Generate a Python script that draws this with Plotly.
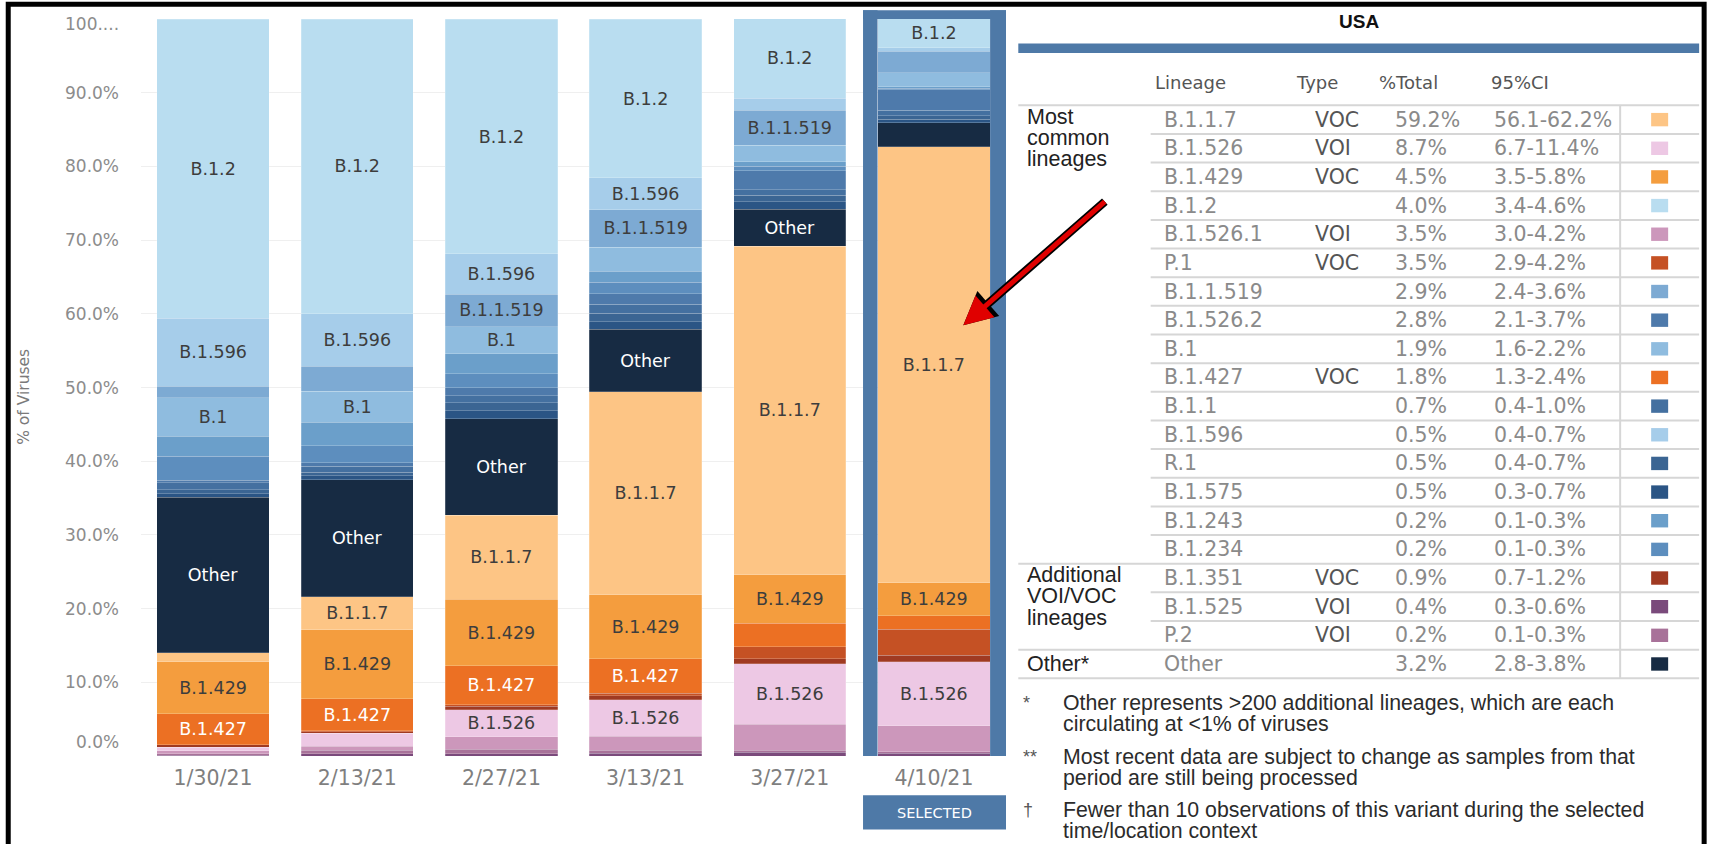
import plotly.graph_objects as go

# ---------------- data ----------------
DATES = ["1/30/21", "2/13/21", "2/27/21", "3/13/21", "3/27/21", "4/10/21"]

# stack order, bottom -> top
LINEAGES = ["B.1.525", "P.2", "B.1.526.1", "B.1.526", "B.1.351", "P.1", "B.1.427",
            "B.1.429", "B.1.1.7", "Other", "B.1.575", "R.1", "B.1.1", "B.1.526.2",
            "B.1.234", "B.1.243", "B.1", "B.1.1.519", "B.1.596", "B.1.2"]

B_1_525 = [0.1, 0.3, 0.3, 0.4, 0.5, 0.4]
P_2 = [0.2, 0.5, 0.6, 0.4, 0.3, 0.2]
B_1_526_1 = [0.4, 0.5, 1.7, 1.9, 3.5, 3.5]
B_1_526 = [0.5, 1.8, 3.7, 4.9, 8.2, 8.7]
B_1_351 = [0.3, 0.2, 0.45, 0.6, 0.7, 0.9]
P_1 = [0.0, 0.1, 0.2, 0.3, 1.6, 3.5]
B_1_427 = [4.2, 4.4, 5.3, 4.7, 3.2, 1.8]
B_1_429 = [7.1, 9.3, 9.0, 8.7, 6.6, 4.5]
B_1_1_7 = [1.2, 4.5, 11.4, 27.5, 44.6, 59.2]
OTHER = [21.1, 15.9, 13.1, 8.5, 5.0, 3.2]
B_1_575 = [0.5, 0.5, 1.1, 1.0, 1.0, 0.5]
R_1 = [0.5, 0.5, 1.1, 1.2, 0.9, 0.5]
B_1_1 = [1.0, 0.8, 0.9, 1.2, 0.7, 0.7]
B_1_526_2 = [0.3, 0.5, 1.1, 1.4, 2.6, 2.8]
B_1_234 = [3.3, 2.3, 1.9, 1.6, 0.65, 0.2]
B_1_243 = [2.7, 3.2, 2.7, 1.45, 0.6, 0.2]
B_1 = [5.2, 4.2, 3.7, 3.3, 2.2, 1.9]
B_1_1_519 = [1.6, 3.4, 4.4, 5.1, 4.8, 2.9]
B_1_596 = [9.2, 7.1, 5.5, 4.3, 1.6, 0.5]
B_1_2 = [40.6, 40.0, 31.8, 21.5, 10.8, 4.0]

SHARE = {
    "B.1.525": B_1_525, "P.2": P_2, "B.1.526.1": B_1_526_1, "B.1.526": B_1_526,
    "B.1.351": B_1_351, "P.1": P_1, "B.1.427": B_1_427, "B.1.429": B_1_429,
    "B.1.1.7": B_1_1_7, "Other": OTHER, "B.1.575": B_1_575, "R.1": R_1,
    "B.1.1": B_1_1, "B.1.526.2": B_1_526_2, "B.1.234": B_1_234, "B.1.243": B_1_243,
    "B.1": B_1, "B.1.1.519": B_1_1_519, "B.1.596": B_1_596, "B.1.2": B_1_2,
}

COLORS = {
    "B.1.1.7": "#FDC585", "B.1.526": "#EDC8E4", "B.1.429": "#F49D3E", "B.1.2": "#B9DDF0",
    "B.1.526.1": "#CC97BB", "P.1": "#C55124", "B.1.1.519": "#7DAAD3", "B.1.526.2": "#4E7AAB",
    "B.1": "#8FBCDF", "B.1.427": "#EC7023", "B.1.1": "#4470A0", "B.1.596": "#A6CDEA",
    "R.1": "#3B6593", "B.1.575": "#2B5585", "B.1.243": "#6B9FCA", "B.1.234": "#5D8EBE",
    "B.1.351": "#A03A22", "B.1.525": "#7A4A7B", "P.2": "#A87299", "Other": "#172B43",
}

# which segments carry a text label (1 = labelled)
LABELLED = {
    "B.1.2": [1, 1, 1, 1, 1, 1],
    "B.1.596": [1, 1, 1, 1, 0, 0],
    "B.1.1.519": [0, 0, 1, 1, 1, 0],
    "B.1": [1, 1, 1, 0, 0, 0],
    "Other": [1, 1, 1, 1, 1, 0],
    "B.1.1.7": [0, 1, 1, 1, 1, 1],
    "B.1.429": [1, 1, 1, 1, 1, 1],
    "B.1.427": [1, 1, 1, 1, 0, 0],
    "B.1.526": [0, 0, 1, 1, 1, 1],
}
WHITE_LABELS = ["Other", "B.1.427"]

Y_TICKS = [0, 10, 20, 30, 40, 50, 60, 70, 80, 90, 100]
Y_TICK_TEXT = ["0.0%", "10.0%", "20.0%", "30.0%", "40.0%", "50.0%",
               "60.0%", "70.0%", "80.0%", "90.0%", "100...."]

# table (selected period, USA)
TABLE_LINEAGE = ["B.1.1.7", "B.1.526", "B.1.429", "B.1.2", "B.1.526.1", "P.1", "B.1.1.519",
                 "B.1.526.2", "B.1", "B.1.427", "B.1.1", "B.1.596", "R.1", "B.1.575",
                 "B.1.243", "B.1.234", "B.1.351", "B.1.525", "P.2", "Other"]
TABLE_TYPE = ["VOC", "VOI", "VOC", "", "VOI", "VOC", "", "", "", "VOC", "", "", "", "",
              "", "", "VOC", "VOI", "VOI", ""]
TABLE_PCT = ["59.2%", "8.7%", "4.5%", "4.0%", "3.5%", "3.5%", "2.9%", "2.8%", "1.9%", "1.8%",
             "0.7%", "0.5%", "0.5%", "0.5%", "0.2%", "0.2%", "0.9%", "0.4%", "0.2%", "3.2%"]
TABLE_CI = ["56.1-62.2%", "6.7-11.4%", "3.5-5.8%", "3.4-4.6%", "3.0-4.2%", "2.9-4.2%",
            "2.4-3.6%", "2.1-3.7%", "1.6-2.2%", "1.3-2.4%", "0.4-1.0%", "0.4-0.7%",
            "0.4-0.7%", "0.3-0.7%", "0.1-0.3%", "0.1-0.3%", "0.7-1.2%", "0.3-0.6%",
            "0.1-0.3%", "2.8-3.8%"]
TABLE_HEADER = ["Lineage", "Type", "%Total", "95%CI"]
GROUP_LABELS = [["Most", "common", "lineages"], ["Additional", "VOI/VOC", "lineages"], ["Other*"]]
GROUP_START = [0, 16, 19]
GROUP_END = [16, 19, 20]

FOOT_MARKS = ["*", "**", "\u2020"]
FOOT_LINES = [
    ["Other represents >200 additional lineages, which are each", "circulating at <1% of viruses"],
    ["Most recent data are subject to change as samples from that", "period are still being processed"],
    ["Fewer than 10 observations of this variant during the selected", "time/location context"],
]

# ---------------- geometry helpers (pixel -> paper) ----------------
W, H = 1709, 844
X0, X1 = 140.5, 1005.7   # plot area left/right (px)
Y0, Y1 = 18.7, 755.7     # plot area top/bottom (px)


def px(x):
    return (x - X0) / (X1 - X0)


def py(y):
    return (Y1 - y) / (Y1 - Y0)


TAB = "DejaVu Sans"
ARIAL = "Liberation Sans"
SEL_BLUE = "#4E79A7"

fig = go.Figure()
for lin in LINEAGES:
    shown = LABELLED.get(lin, [0] * len(DATES))
    fig.add_bar(
        x=DATES, y=SHARE[lin], name=lin,
        marker=dict(color=COLORS[lin], line=dict(width=0.6, color="rgba(255,255,255,0.35)")),
        text=[lin if s else "" for s in shown],
        textposition="inside", insidetextanchor="middle", textangle=0,
        textfont=dict(family=TAB, size=17.5,
                      color="#FFFFFF" if lin in WHITE_LABELS else "#3D3D3D"),
        hoverinfo="skip",
    )

shapes = []
ann = []

# selected-bar frame (strips around the last bar) and SELECTED badge
shapes += [
    dict(type="rect", xref="paper", yref="paper", x0=px(862.7), x1=px(877.2), y0=py(755.7), y1=py(10),
         fillcolor=SEL_BLUE, line=dict(width=0), layer="above"),
    dict(type="rect", xref="paper", yref="paper", x0=px(989.8), x1=px(1005.7), y0=py(755.7), y1=py(10),
         fillcolor=SEL_BLUE, line=dict(width=0), layer="above"),
    dict(type="rect", xref="paper", yref="paper", x0=px(862.7), x1=px(1005.7), y0=py(18.7), y1=py(10),
         fillcolor=SEL_BLUE, line=dict(width=0), layer="above"),
    dict(type="rect", xref="paper", yref="paper", x0=px(862.7), x1=px(1005.7), y0=py(829.3), y1=py(795),
         fillcolor=SEL_BLUE, line=dict(width=0), layer="above"),
]
ann.append(dict(xref="paper", yref="paper", x=px(934.2), y=py(812.2), text="SELECTED", showarrow=False,
                xanchor="center", yanchor="middle", font=dict(family=TAB, size=14.5, color="white")))

# y tick labels
for v, t in zip(Y_TICKS, Y_TICK_TEXT):
    shift = 13.7 if v == 0 else (-4.6 if v == 100 else 0)
    ann.append(dict(xref="paper", yref="y", x=px(120.5), y=v, yshift=shift, text=t, showarrow=False,
                    xanchor="right", yanchor="middle", font=dict(family=TAB, size=17, color="#8C8C8C")))

ann.append(dict(xref="paper", yref="paper", x=px(24), y=py(397), text="% of Viruses", textangle=-90,
                showarrow=False, xanchor="center", yanchor="middle",
                font=dict(family=TAB, size=15.5, color="#7A7A7A")))

# ---------------- right panel ----------------
ann.append(dict(xref="paper", yref="paper", x=px(1359), y=py(21), text="<b>USA</b>", showarrow=False,
                xanchor="center", yanchor="middle", font=dict(family=ARIAL, size=19, color="#111111")))
shapes.append(dict(type="rect", xref="paper", yref="paper", x0=px(1018), x1=px(1699), y0=py(52.7),
                   y1=py(43.3), fillcolor=SEL_BLUE, line=dict(width=0)))

for t, xh in zip(TABLE_HEADER, [1152.7, 1294, 1376.5, 1489]):
    ann.append(dict(xref="paper", yref="paper", x=px(xh), y=py(81.7), text=t, showarrow=False,
                    xanchor="left", yanchor="middle", font=dict(family=TAB, size=18, color="#555555")))

T_TOP, ROW_H = 105.0, 28.65
LINE_C = "#D6D6D6"
group_bounds = set(GROUP_START) | {GROUP_END[-1]}
for i in range(len(TABLE_LINEAGE) + 1):
    yl = T_TOP + i * ROW_H
    xl = 1018 if i in group_bounds else 1150.4
    shapes.append(dict(type="line", xref="paper", yref="paper", x0=px(xl), x1=px(1699), y0=py(yl), y1=py(yl),
                       line=dict(color=LINE_C, width=2)))
shapes.append(dict(type="line", xref="paper", yref="paper", x0=px(1620), x1=px(1620), y0=py(T_TOP),
                   y1=py(T_TOP + len(TABLE_LINEAGE) * ROW_H), line=dict(color=LINE_C, width=2)))

for i, lin in enumerate(TABLE_LINEAGE):
    yc = T_TOP + (i + 0.5) * ROW_H
    for t, xc, col in [(lin, 1161.6, "#8A8A8A"), (TABLE_TYPE[i], 1313, "#555555"),
                       (TABLE_PCT[i], 1392.5, "#8A8A8A"), (TABLE_CI[i], 1491.5, "#8A8A8A")]:
        if t:
            ann.append(dict(xref="paper", yref="paper", x=px(xc), y=py(yc), text=t, showarrow=False,
                            xanchor="left", yanchor="middle", font=dict(family=TAB, size=20.5, color=col)))
    shapes.append(dict(type="rect", xref="paper", yref="paper", x0=px(1651), x1=px(1668),
                       y0=py(yc + 6.7), y1=py(yc - 6.7), fillcolor=COLORS[lin], line=dict(width=0)))

for lines, g0, g1 in zip(GROUP_LABELS, GROUP_START, GROUP_END):
    if len(lines) == 1:
        ys = [T_TOP + (g0 + 0.5) * ROW_H]
    else:
        ys = [T_TOP + g0 * ROW_H + 11.3 + k * 21.3 for k in range(len(lines))]
    for t, yy in zip(lines, ys):
        ann.append(dict(xref="paper", yref="paper", x=px(1024.5), y=py(yy), text=t, showarrow=False,
                        xanchor="left", yanchor="middle", font=dict(family=ARIAL, size=21.5, color="#222222")))

for k, (mark, lines) in enumerate(zip(FOOT_MARKS, FOOT_LINES)):
    y_first = 702.7 + k * 53.7
    ann.append(dict(xref="paper", yref="paper", x=px(1021), y=py(y_first), text=mark, showarrow=False,
                    xanchor="left", yanchor="middle", font=dict(family=ARIAL, size=18, color="#555555")))
    for j, t in enumerate(lines):
        ann.append(dict(xref="paper", yref="paper", x=px(1060.5), y=py(y_first + j * 20.8), text=t,
                        showarrow=False, xanchor="left", yanchor="middle",
                        font=dict(family=ARIAL, size=21.3, color="#2B2B2B")))

# red pointer arrow (black outline underneath)
for colr, wdt, sz in [("#000000", 8.5, 0.78), ("#E00000", 5, 1.15)]:
    ann.append(dict(xref="paper", yref="paper", x=px(963), y=py(325), ax=143, ay=-125,
                    axref="pixel", ayref="pixel", text="", showarrow=True, arrowhead=2,
                    arrowwidth=wdt, arrowsize=sz, arrowcolor=colr, standoff=0, startstandoff=0))

# outer black border
shapes.append(dict(type="rect", xref="paper", yref="paper", x0=px(7.7), x1=px(1704), y0=py(860),
                   y1=py(4), line=dict(color="black", width=5), fillcolor="rgba(0,0,0,0)", layer="above"))

fig.update_layout(
    width=W, height=H, autosize=False,
    margin=dict(l=X0, r=W - X1, t=Y0, b=H - Y1, pad=0, autoexpand=False),
    barmode="stack", bargap=0.22,
    plot_bgcolor="white", paper_bgcolor="white", showlegend=False,
    uniformtext=dict(minsize=17.5, mode="show"),
    font=dict(family=TAB),
    shapes=shapes, annotations=ann,
)
fig.update_xaxes(type="category", categoryorder="array", categoryarray=DATES, showgrid=False,
                 showline=False, zeroline=False, ticks="", automargin=False,
                 tickfont=dict(family=TAB, size=20.5, color="#7F7F7F"), ticklabelstandoff=7)
fig.update_yaxes(range=[0, 100], tickvals=Y_TICKS, showticklabels=False, showgrid=True,
                 gridcolor="#EFEFEF", gridwidth=1, zeroline=False, showline=False, automargin=False)

fig.write_html("out.html", config={"displayModeBar": False},
               post_script="document.body.style.margin='0';document.body.style.overflow='hidden';")
